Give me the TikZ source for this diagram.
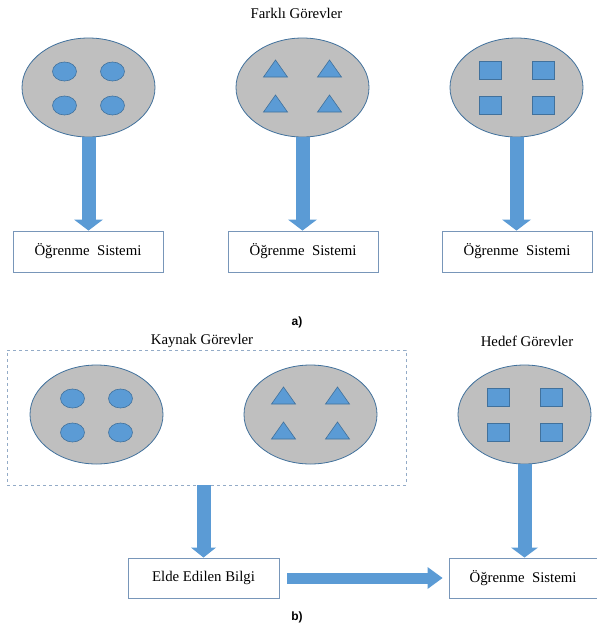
\documentclass[tikz,border=0pt]{standalone}
\usepackage{fontspec}
\setmainfont{Liberation Serif}
\newfontfamily\harfyazi{Liberation Sans}
\usetikzlibrary{arrows.meta,calc,positioning,shapes.geometric}
\definecolor{mavi}{RGB}{91,155,213}
\definecolor{koyumavi}{RGB}{65,113,156}
\definecolor{gri}{RGB}{191,191,191}
\definecolor{kenar}{RGB}{120,150,185}
\tikzset{
  grup/.style={ellipse,fill=gri,draw=koyumavi,line width=0.8pt,minimum width=133pt,minimum height=99pt,inner sep=0pt},
  daire/.style={ellipse,fill=mavi,draw=koyumavi,line width=0.6pt,minimum width=24pt,minimum height=19pt,inner sep=0pt},
  kare/.style={rectangle,fill=mavi,draw=koyumavi,line width=0.6pt,minimum width=22pt,minimum height=18pt,inner sep=0pt},
  ucgen/.style={fill=mavi,draw=koyumavi,line width=0.6pt,line join=miter},
  kutu/.style={rectangle,draw=kenar,line width=0.9pt,fill=white,minimum width=150pt,minimum height=41pt,inner sep=0pt,font=\fontsize{14.8}{16}\selectfont},
  baslik/.style={font=\fontsize{14.8}{16}\selectfont},
  etiket/.style={font=\harfyazi\bfseries\fontsize{12}{14}\selectfont},
  blokok/.style={draw=mavi,line width=14pt,-{Triangle[length=11pt,width=29pt,line width=0pt]}},
  kesikli/.style={draw=kenar!80,dashed,line width=0.9pt,minimum width=399pt,minimum height=135pt,inner sep=0pt}
}
% dort kucuk sekil, grubun merkezine gore
\newcommand{\daireler}[1]{\foreach \dx/\dy in {-24/-16,24/-16,-24/18,24/18}{\node[daire] at ($(#1)+(\dx,\dy)$) {};}}
\newcommand{\ucgenler}[1]{\foreach \dx/\dy in {-27/-19,27/-19,-27/16,27/16}{\draw[ucgen] ($(#1)+(\dx,\dy)$) ++(-12,8.5) -- ++(24,0) -- ++(-12,-17) -- cycle;}}
\newcommand{\kareler}[1]{\foreach \dx/\dy in {-26/-17.5,27/-17.5,-26/17.5,27/17.5}{\node[kare] at ($(#1)+(\dx,\dy)$) {};}}

\begin{document}
\begin{tikzpicture}[x=1pt,y=-1pt]
\useasboundingbox (0,0) rectangle (597,627);
% a)
\node[baslik] (farkli) at (296.5,13) {Farklı Görevler};
\node[grup] (e1) at (88.5,87.5) {}; \node[grup] (e2) at (302.5,87.5) {}; \node[grup] (e3) at (516.5,87.5) {};
\daireler{e1} \ucgenler{e2} \kareler{e3}
\node[kutu] (k1) at (88,251.5) {Öğrenme\ \ Sistemi};
\node[kutu] (k2) at (303,251.5) {Öğrenme\ \ Sistemi};
\node[kutu] (k3) at (517,251.5) {Öğrenme\ \ Sistemi};
\draw[blokok] (e1.south) -- (e1.south |- k1.north);
\draw[blokok] (e2.south) -- (e2.south |- k2.north);
\draw[blokok] (e3.south) -- (e3.south |- k3.north);
\node[etiket] (a) at (297,322) {a)};
% b)
\node[kesikli] (kaynak) at (206.5,417.5) {};
\node[baslik] (kaynakyazi) at (202,341) {Kaynak Görevler};
\node[baslik] (hedefyazi) at (527,341) {Hedef Görevler};
\node[grup] (e4) at (96.5,414.5) {}; \node[grup] (e5) at (310.5,414.5) {}; \node[grup] (e6) at (524.5,414.5) {};
\daireler{e4} \ucgenler{e5} \kareler{e6}
\node[kutu,minimum width=151pt,minimum height=40pt] (elde) at (203.5,578) {Elde Edilen Bilgi};
\node[kutu,minimum width=148pt,minimum height=40pt] (hs) at (523,578) {Öğrenme\ \ Sistemi};
\draw[blokok,-{Triangle[length=10pt,width=25pt,line width=0pt]}] (kaynak.south -| elde.north) -- (elde.north);
\draw[blokok,-{Triangle[length=10pt,width=27pt,line width=0pt]}] (e6.south) -- (e6.south |- hs.north);
\draw[blokok,line width=11pt,-{Triangle[length=15pt,width=22pt,line width=0pt]},shorten <=8pt,shorten >=6pt] (elde.east) -- (hs.west);
\node[etiket] (b) at (297,617) {b)};
\end{tikzpicture}
\end{document}
